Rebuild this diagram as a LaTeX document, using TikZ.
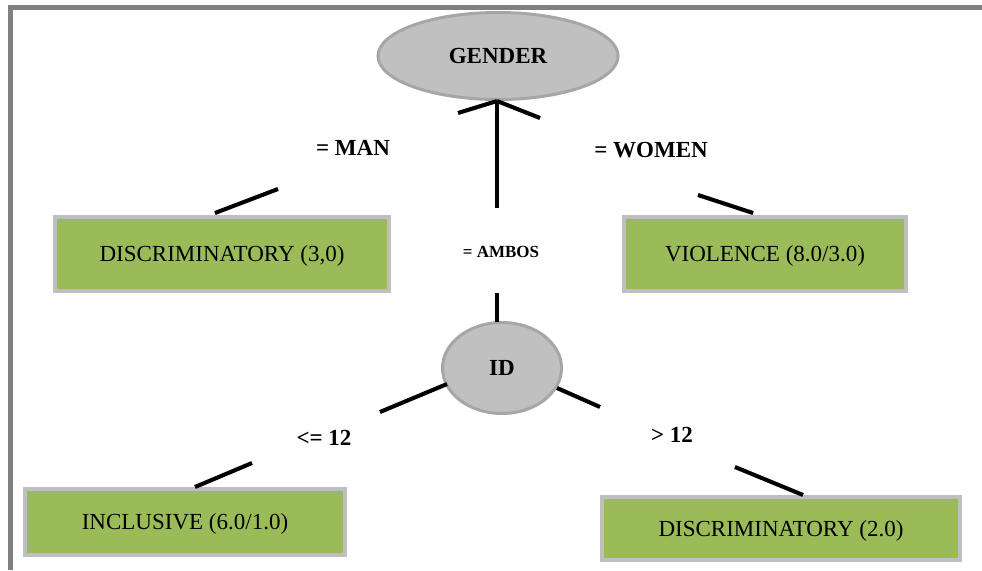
\documentclass[tikz,border=0pt]{standalone}
\usepackage{fontspec}
\setmainfont{Liberation Serif}
\usetikzlibrary{shapes.geometric}
\definecolor{framegray}{HTML}{808080}
\definecolor{ellfill}{HTML}{C0C0C0}
\definecolor{ellborder}{HTML}{A6A6A6}
\definecolor{boxgreen}{HTML}{9BBB59}
\definecolor{boxborder}{HTML}{BFBFBF}
\tikzset{
  decision/.style={ellipse, draw=ellborder, fill=ellfill, line width=3pt, inner sep=0pt,
    font=\fontsize{23}{27}\selectfont\bfseries},
  leafbox/.style={rectangle, draw=boxborder, fill=boxgreen, line width=4pt, inner sep=0pt,
    text depth=0pt, font=\fontsize{23}{27}\selectfont},
  edgelabel/.style={inner sep=0pt, font=\fontsize{23}{27}\selectfont\bfseries},
  conn/.style={line width=4pt, black},
  connshadow/.style={line width=4pt, black!20, xshift=3.5pt, yshift=-2pt},
}
\begin{document}
\begin{tikzpicture}[x=1pt,y=-1pt]
\useasboundingbox (0,0) rectangle (982,570);
% frame
\draw[framegray, line width=4.5pt] (10.5,570) -- (10.5,7.5) -- (982,7.5);

% nodes
\node[decision, minimum width=240pt, minimum height=87pt] (gender) at (498,56) {GENDER};
\node[decision, minimum width=119pt, minimum height=91pt] (id) at (502,368) {ID};
\node[leafbox, minimum width=334pt, minimum height=74pt] (disc1) at (222,254) {DISCRIMINATORY (3,0)};
\node[leafbox, minimum width=282pt, minimum height=74pt] (viol) at (765,254) {VIOLENCE (8.0/3.0)};
\node[leafbox, minimum width=320pt, minimum height=66pt] (incl) at (185,522) {INCLUSIVE (6.0/1.0)};
\node[leafbox, minimum width=358pt, minimum height=63pt] (disc2) at (781,528.5) {DISCRIMINATORY (2.0)};

% labels
\node[edgelabel] (lman) at (353,148) {= MAN};
\node[edgelabel] (lwomen) at (651,150) {= WOMEN};
\node[edgelabel, font=\fontsize{17}{20}\selectfont\bfseries] (lambos) at (501,252) {= AMBOS};
\node[edgelabel] (lle) at (324,438) {<= 12};
\node[edgelabel] (lgt) at (672,435) {> 12};

% connector coordinates
\coordinate (g0) at (497,101);
\coordinate (m1) at (458,113);
\coordinate (m2) at (278,189);
\coordinate (m3) at (215,213);
\coordinate (w1) at (540,118);
\coordinate (w2) at (698,195);
\coordinate (w3) at (753,213);
\coordinate (a1) at (497,208);
\coordinate (a2) at (497,293);
\coordinate (a3) at (497,322);
\coordinate (l0) at (447,384);
\coordinate (l1) at (380,412);
\coordinate (l2) at (252,463);
\coordinate (l3) at (195,487);
\coordinate (r0) at (557,388);
\coordinate (r1) at (600,407);
\coordinate (r2) at (735,467);
\coordinate (r3) at (803,495);

% shadows
\begin{scope}
\draw[connshadow] (g0) -- (m1);
\draw[connshadow] (m2) -- (m3);
\draw[connshadow] (g0) -- (w1);
\draw[connshadow] (w2) -- (w3);
\draw[connshadow] (g0) -- (a1);
\draw[connshadow] (a2) -- (a3);
\draw[connshadow] (l0) -- (l1);
\draw[connshadow] (l2) -- (l3);
\draw[connshadow] (r0) -- (r1);
\draw[connshadow] (r2) -- (r3);
\end{scope}

% connectors
\draw[conn] (g0) -- (m1);
\draw[conn] (m2) -- (m3);
\draw[conn] (g0) -- (w1);
\draw[conn] (w2) -- (w3);
\draw[conn] (g0) -- (a1);
\draw[conn] (a2) -- (a3);
\draw[conn] (l0) -- (l1);
\draw[conn] (l2) -- (l3);
\draw[conn] (r0) -- (r1);
\draw[conn] (r2) -- (r3);
\end{tikzpicture}
\end{document}
